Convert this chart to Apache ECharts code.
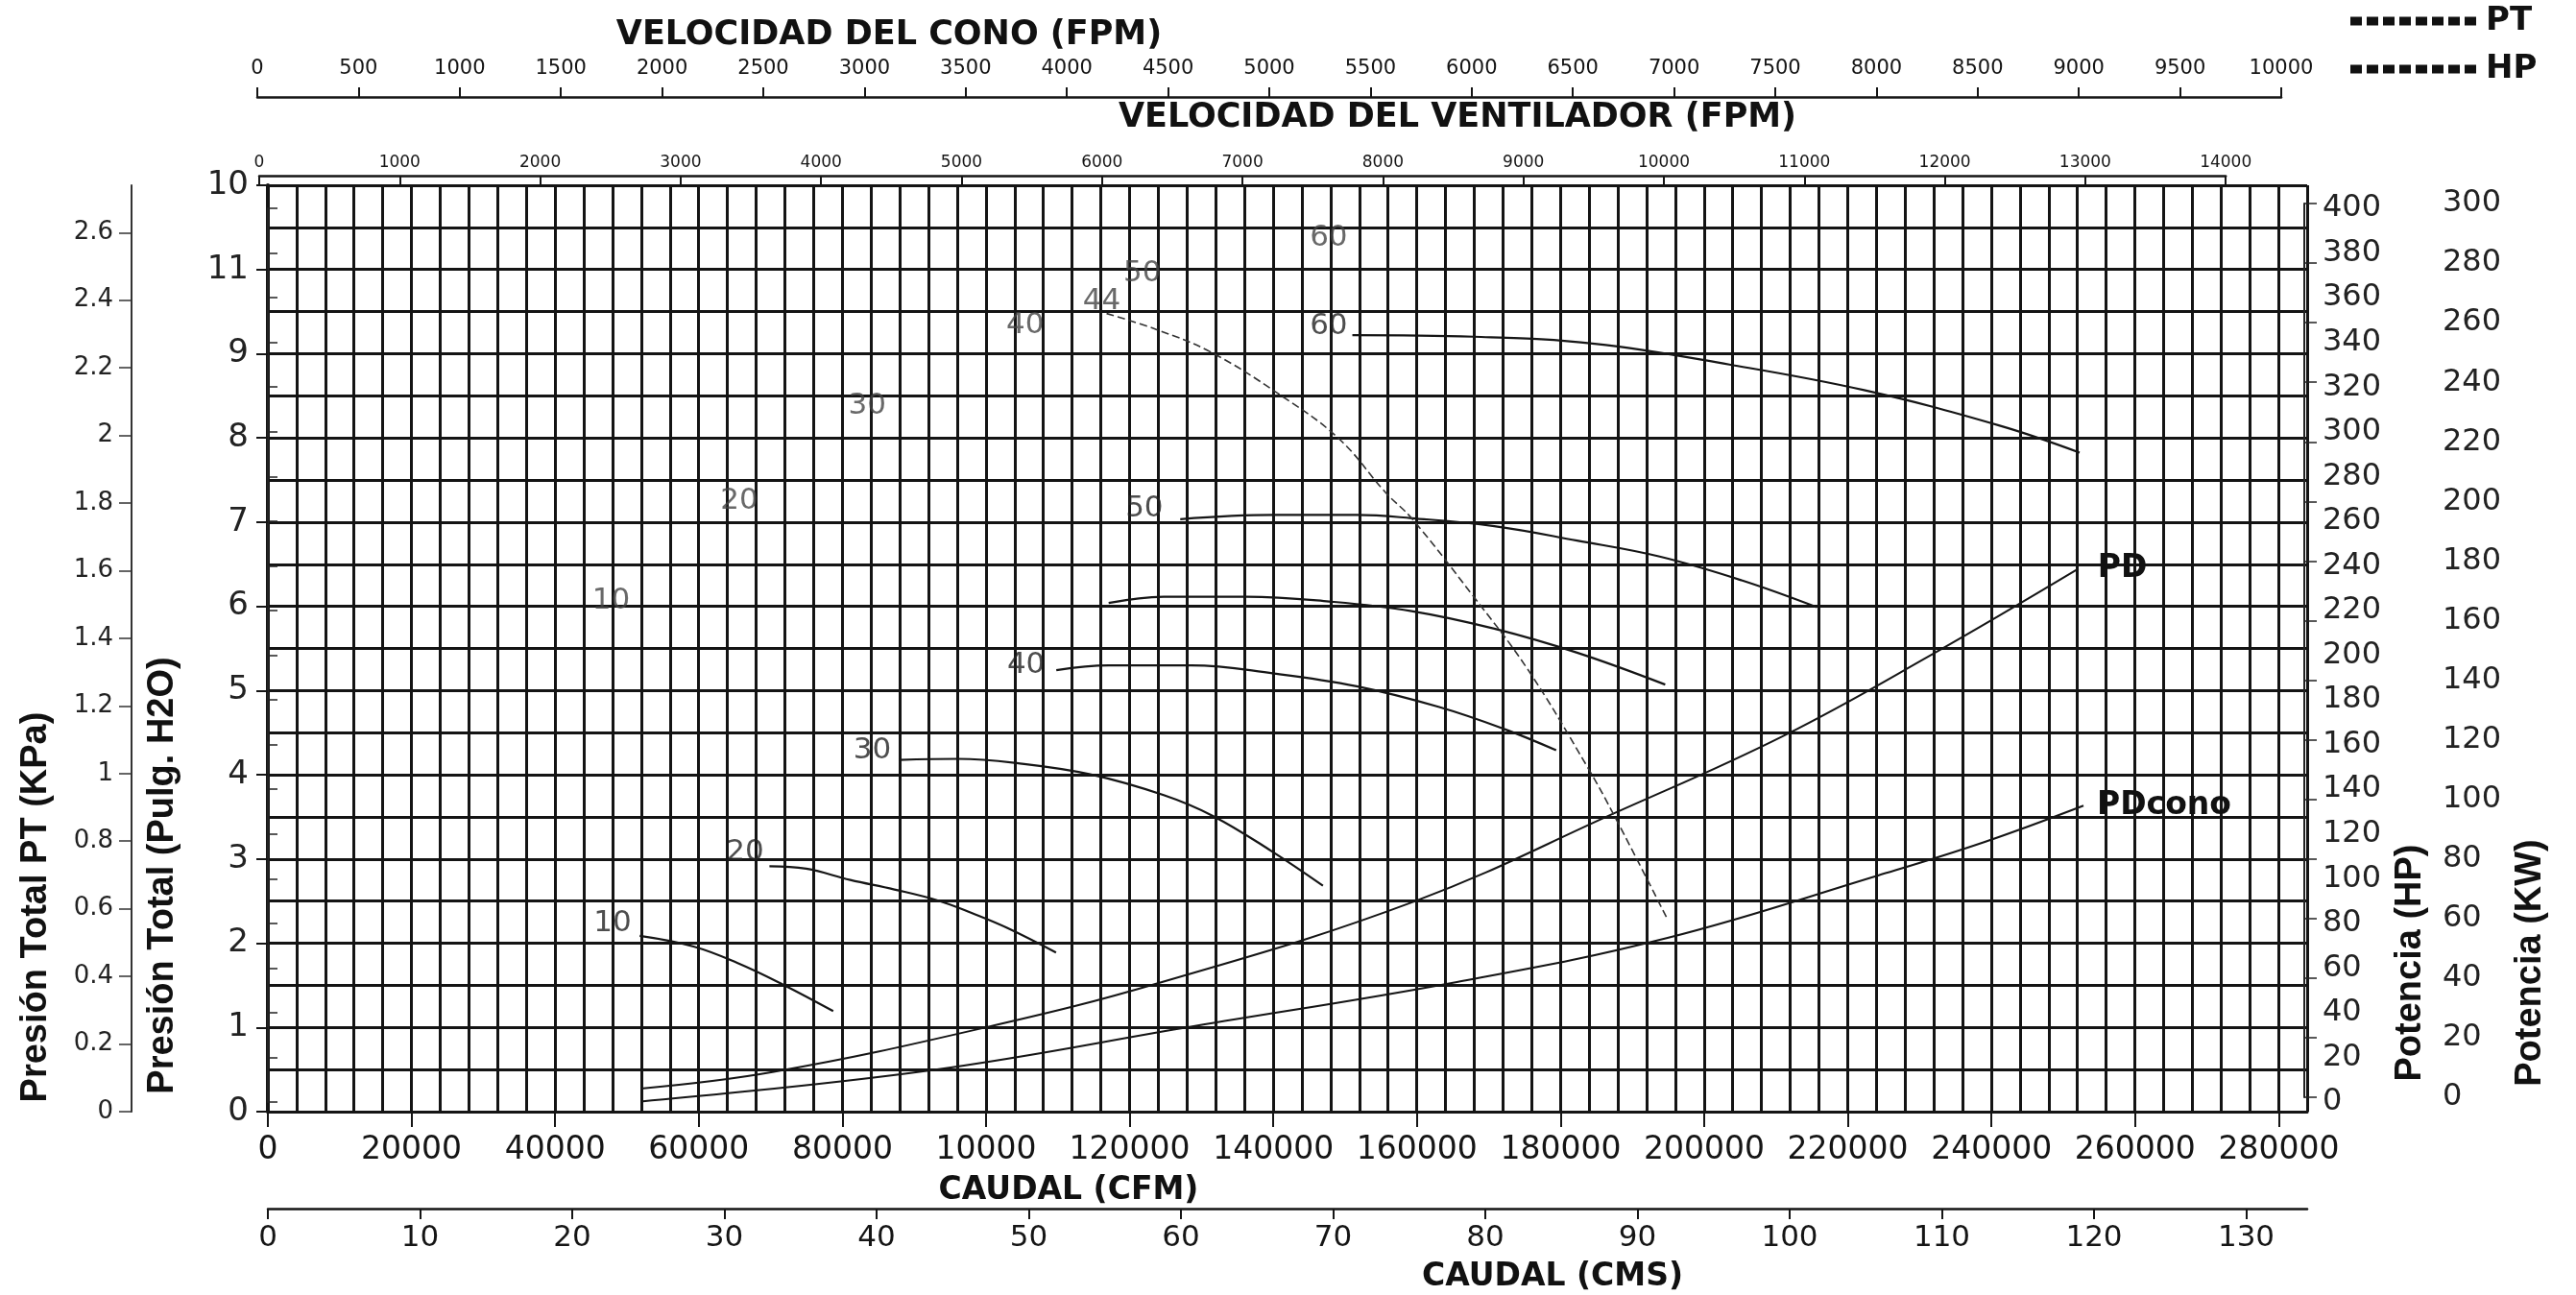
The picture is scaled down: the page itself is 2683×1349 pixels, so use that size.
<!DOCTYPE html>
<html><head><meta charset="utf-8">
<script src="https://cdn.jsdelivr.net/npm/echarts@6/dist/echarts.min.js"></script>
<style>html,body{margin:0;padding:0;background:#fff}#c{width:2683px;height:1349px}</style>
</head><body><div id="c"></div>
<script>
// ---------- tick labels ----------
const cfmTickLabels = ['0','20000','40000','60000','80000','10000','120000','140000','160000','180000','200000','220000','240000','260000','280000'];
const inchTickLabels = ['0','1','2','3','4','5','6','7','8','9','11','10'];
const kpaTickValues = [0,0.2,0.4,0.6,0.8,1,1.2,1.4,1.6,1.8,2,2.2,2.4,2.6];
const kpaTickLabels = ['0','0.2','0.4','0.6','0.8','1','1.2','1.4','1.6','1.8','2','2.2','2.4','2.6'];
const cmsTickLabels = ['0','10','20','30','40','50','60','70','80','90','100','110','120','130'];
const fanFpmTickLabels = ['0','1000','2000','3000','4000','5000','6000','7000','8000','9000','10000','11000','12000','13000','14000'];
const coneFpmTickLabels = ['0','500','1000','1500','2000','2500','3000','3500','4000','4500','5000','5500','6000','6500','7000','7500','8000','8500','9000','9500','10000'];
const hpTickLabels = ['0','20','40','60','80','100','120','140','160','180','200','220','240','260','280','300','320','340','360','380','400'];
const kwTickLabels = ['0','20','40','60','80','100','120','140','160','180','200','220','240','260','280','300'];

// ---------- PT curves: [CFM, in. H2O] ----------
const pt10 = [[51780,2.087],[59280,1.961],[65430,1.764],[71560,1.517],[78730,1.194]];
const pt20 = [[69850,2.915],[74970,2.885],[81110,2.751],[87250,2.638],[93400,2.505],[98170,2.353],[102940,2.182],[109760,1.889]];
const pt30 = [[87930,4.177],[96120,4.189],[104300,4.139],[114530,4.006],[124760,3.759],[131600,3.512],[139770,3.094],[146930,2.683]];
const pt40 = [[109800,5.242],[117090,5.299],[128600,5.299],[140110,5.203],[151620,5.051],[163130,4.804],[172340,4.538],[179410,4.291]];
const pt44 = [[117090,6.040],[124760,6.115],[136270,6.115],[147780,6.058],[159290,5.944],[170800,5.735],[182320,5.450],[194600,5.071]];
const pt50 = [[127060,7.035],[140110,7.085],[151620,7.085],[159290,7.047],[170800,6.952],[182320,6.781],[193830,6.591],[205350,6.306],[215710,5.990]];
const pt60 = [[151030,9.221],[167900,9.202],[184780,9.118],[203540,8.871],[222300,8.567],[241060,8.149],[252310,7.826]];
const pdFan = [[51930,0.274],[70270,0.470],[99600,0.993],[124520,1.539],[159720,2.498],[187570,3.546],[211050,4.462],[231600,5.422],[252150,6.448]];
const pdCone = [[51930,0.120],[92260,0.491],[128930,1.015],[165590,1.539],[194920,2.063],[224250,2.804],[238910,3.197],[252850,3.633]];

// ---------- HP curve (44): [CFM, HP] ----------
const hp44 = [[116800,352.9],[123800,345.7],[131290,335.7],[140680,317.1],[149120,297.0],[155680,272.7],[159300,261.2],[167750,226.9],[175400,193.9],[183850,149.5],[187600,127.6],[194950,81.6]];

// ---------- curve labels ----------
const ptLabelText = ['10','20','30','40','50','60'];
const ptLabelPos = [[48000,2.24],[66440,3.075],[84180,4.29],[105580,5.30],[122060,7.16],[147730,9.33]];
const hpLabelText = ['10','20','30','40','44','50','60'];
const hpLabelPos = [[47800,224.2],[65640,269.0],[83480,311.7],[105450,347.7],[116130,358.3],[121770,370.8],[147730,386.5]];

// ---------- chart ----------
const NUM = "'DejaVu Sans', Verdana, sans-serif";
const INK = '#151515';
const GRIDLINE = {color: '#141414', width: 3};
const hidden = {show: false};
const hiddenAxis = (g, extra) => Object.assign({gridIndex: g, type: 'value', show: false, min: 0, max: 1}, extra || {});

const ptSeries = [pt10, pt20, pt30, pt40, pt44, pt50, pt60].map(d => ({
  type: 'line', name: 'PT', xAxisIndex: 0, yAxisIndex: 0, data: d, smooth: 0.4,
  symbol: 'none', lineStyle: {color: INK, width: 2.2}, itemStyle: {color: INK}, z: 5
}));

const dashIcon = 'path://M0,0h12v6h-12z M17,0h12v6h-12z M34,0h12v6h-12z M51,0h12v6h-12z M68,0h12v6h-12z M85,0h12v6h-12z M102,0h12v6h-12z M119,0h12v6h-12z';

const option = {
  backgroundColor: '#ffffff',
  animation: false,
  legend: {
    data: ['PT', 'HP'], orient: 'vertical', left: 2448, top: 5, padding: 0,
    itemWidth: 131, itemHeight: 9, itemGap: 16, icon: dashIcon, selectedMode: false, symbolKeepAspect: false,
    itemStyle: {color: '#111', borderWidth: 0},
    textStyle: {fontFamily: NUM, fontWeight: 'bold', fontSize: 34, color: '#111', lineHeight: 34, padding: [0, 0, 0, 5]}
  },
  grid: [
    {left: 279, top: 193, width: 2124, height: 965},      // 0 main
    {left: 279, top: 1157, width: 2094.4, height: 1},     // 1 CFM labels
    {left: 279, top: 1258, width: 2124, height: 1},       // 2 CMS line
    {left: 279, top: 1258, width: 2060.5, height: 1},     // 3 CMS ticks
    {left: 270, top: 182, width: 2048.2, height: 1},      // 4 fan FPM
    {left: 268, top: 100, width: 2108, height: 1},        // 5 cone FPM
    {left: 137, top: 193, width: 1, height: 965},         // 6 KPa
    {left: 279, top: 217, width: 2124, height: 931},      // 7 HP
    {left: 2400, top: 212, width: 127, height: 931}       // 8 KW
  ],
  xAxis: [
    {gridIndex: 0, type: 'value', position: 'bottom', min: 0, max: 284000, interval: 4000,
      axisLine: {show: true, lineStyle: {color: INK, width: 3}}, axisTick: hidden, axisLabel: hidden,
      splitLine: {show: true, lineStyle: GRIDLINE}},
    {gridIndex: 1, type: 'value', position: 'bottom', min: 0, max: 280000, interval: 20000,
      axisLine: hidden, splitLine: hidden,
      axisTick: {show: true, length: 16, lineStyle: {color: INK, width: 2}},
      axisLabel: {show: true, margin: 24, fontSize: 33, fontFamily: NUM, color: INK,
        formatter: v => cfmTickLabels[Math.round(v / 20000)] || ''}},
    {gridIndex: 2, type: 'value', position: 'bottom', min: 0, max: 134,
      axisLine: {show: true, lineStyle: {color: INK, width: 2.5}}, axisTick: hidden, axisLabel: hidden, splitLine: hidden},
    {gridIndex: 3, type: 'value', position: 'bottom', min: 0, max: 130, interval: 10,
      axisLine: hidden, splitLine: hidden,
      axisTick: {show: true, length: 11, lineStyle: {color: INK, width: 2}},
      axisLabel: {show: true, margin: 15, fontSize: 31, fontFamily: NUM, color: INK,
        formatter: v => cmsTickLabels[Math.round(v / 10)] || ''}},
    {gridIndex: 4, type: 'value', position: 'top', min: 0, max: 14000, interval: 1000,
      axisLine: {show: true, lineStyle: {color: INK, width: 2.5}}, splitLine: hidden,
      axisTick: {show: true, inside: true, length: 11, lineStyle: {color: INK, width: 2}},
      axisLabel: {show: true, margin: 4, fontSize: 17, fontFamily: NUM, color: INK,
        formatter: v => fanFpmTickLabels[Math.round(v / 1000)] || ''}},
    {gridIndex: 5, type: 'value', position: 'top', min: 0, max: 10000, interval: 500,
      axisLine: {show: true, lineStyle: {color: INK, width: 2.5}}, splitLine: hidden,
      axisTick: {show: true, length: 10, lineStyle: {color: INK, width: 2}},
      axisLabel: {show: true, margin: 18, fontSize: 21, fontFamily: NUM, color: INK,
        formatter: v => coneFpmTickLabels[Math.round(v / 500)] || ''}},
    hiddenAxis(6),
    hiddenAxis(7, {min: 0, max: 284000}),
    hiddenAxis(8)
  ],
  yAxis: [
    {gridIndex: 0, type: 'value', position: 'left', min: 0, max: 11, interval: 1,
      axisLine: {show: true, lineStyle: {color: INK, width: 4}},
      axisTick: {show: true, length: 12, lineStyle: {color: INK, width: 2}},
      minorTick: {show: false, splitNumber: 2},
      splitLine: {show: true, lineStyle: GRIDLINE},
      minorSplitLine: {show: true, lineStyle: GRIDLINE},
      axisLabel: {show: true, margin: 20, fontSize: 34, fontFamily: NUM, color: '#222',
        formatter: v => inchTickLabels[Math.round(v)] || ''}},
    hiddenAxis(1), hiddenAxis(2), hiddenAxis(3), hiddenAxis(4), hiddenAxis(5),
    {gridIndex: 6, type: 'value', position: 'left', min: 0, max: 2.73998, interval: 0.2,
      axisLine: {show: true, lineStyle: {color: '#333', width: 2}}, splitLine: hidden,
      axisTick: {show: true, length: 13, customValues: kpaTickValues, lineStyle: {color: '#333', width: 1.5}},
      axisLabel: {show: true, margin: 19, fontSize: 26, fontFamily: NUM, color: '#222', customValues: kpaTickValues,
        formatter: v => { const i = kpaTickValues.findIndex(t => Math.abs(t - v) < 1e-6); return i >= 0 ? kpaTickLabels[i] : ''; }}},
    {gridIndex: 7, type: 'value', position: 'right', offset: 4, min: 0, max: 400, interval: 20,
      axisLine: {show: true, lineStyle: {color: '#222', width: 2}}, splitLine: hidden,
      axisTick: {show: true, length: 10, lineStyle: {color: '#222', width: 1.5}},
      axisLabel: {show: true, margin: 12, fontSize: 32, fontFamily: NUM, color: '#222',
        formatter: v => hpTickLabels[Math.round(v / 20)] || ''}},
    {gridIndex: 8, type: 'value', position: 'right', min: 0, max: 300, interval: 20,
      axisLine: {show: true, lineStyle: {color: '#222', width: 2}}, splitLine: hidden,
      axisTick: {show: true, length: 13, lineStyle: {color: '#222', width: 1.5}},
      axisLabel: {show: true, margin: 17, fontSize: 32, fontFamily: NUM, color: '#222',
        formatter: v => kwTickLabels[Math.round(v / 20)] || ''}}
  ],
  series: ptSeries.concat([
    {type: 'line', name: 'PD', xAxisIndex: 0, yAxisIndex: 0, data: pdFan, smooth: 0.4, symbol: 'none',
      lineStyle: {color: INK, width: 2}, z: 5,
      endLabel: {show: true, formatter: 'PD', distance: 20, fontFamily: NUM, fontWeight: 'bold', fontSize: 33, color: '#111'}},
    {type: 'line', name: 'PDcono', xAxisIndex: 0, yAxisIndex: 0, data: pdCone, smooth: 0.4, symbol: 'none',
      lineStyle: {color: INK, width: 2}, z: 5,
      endLabel: {show: true, formatter: 'PDcono', distance: 14, fontFamily: NUM, fontWeight: 'bold', fontSize: 33, color: '#111'}},
    {type: 'line', name: 'HP', xAxisIndex: 7, yAxisIndex: 7, data: hp44, smooth: 0.4, symbol: 'none',
      lineStyle: {color: '#333', width: 1.6, type: [8, 4]}, itemStyle: {color: '#333'}, z: 5},
    {type: 'scatter', name: 'ptLabels', xAxisIndex: 0, yAxisIndex: 0, symbolSize: 1, silent: true,
      itemStyle: {color: 'rgba(0,0,0,0)'}, z: 6,
      data: ptLabelPos.map((p, i) => ({name: ptLabelText[i], value: p})),
      label: {show: true, position: 'inside', formatter: '{b}', fontFamily: NUM, fontSize: 31, color: '#222'}},
    {type: 'scatter', name: 'hpLabels', xAxisIndex: 7, yAxisIndex: 7, symbolSize: 1, silent: true,
      itemStyle: {color: 'rgba(0,0,0,0)'}, z: 6,
      data: hpLabelPos.map((p, i) => ({name: hpLabelText[i], value: p})),
      label: {show: true, position: 'inside', formatter: '{b}', fontFamily: NUM, fontSize: 31, color: '#444'}}
  ]),
  graphic: {elements: [
    {type: 'text', x: 926, y: 37, style: {text: 'VELOCIDAD DEL CONO (FPM)', font: 'bold 35px "DejaVu Sans"', fill: '#111', align: 'center', verticalAlign: 'middle', textAlign: 'center', textVerticalAlign: 'middle'}},
    {type: 'text', x: 1518, y: 123, style: {text: 'VELOCIDAD DEL VENTILADOR (FPM)', font: 'bold 35px "DejaVu Sans"', fill: '#111', align: 'center', verticalAlign: 'middle', textAlign: 'center', textVerticalAlign: 'middle'}},
    {type: 'text', x: 1113, y: 1240, style: {text: 'CAUDAL (CFM)', font: 'bold 33px "DejaVu Sans"', fill: '#111', align: 'center', verticalAlign: 'middle', textAlign: 'center', textVerticalAlign: 'middle'}},
    {type: 'text', x: 1617, y: 1330, style: {text: 'CAUDAL (CMS)', font: 'bold 33px "DejaVu Sans"', fill: '#111', align: 'center', verticalAlign: 'middle', textAlign: 'center', textVerticalAlign: 'middle'}},
    {type: 'text', x: 38, y: 945, rotation: Math.PI / 2, style: {text: 'Presión Total PT (KPa)', font: 'bold 38px "Liberation Sans"', fill: '#111', align: 'center', verticalAlign: 'middle', textAlign: 'center', textVerticalAlign: 'middle'}},
    {type: 'text', x: 170, y: 912, rotation: Math.PI / 2, style: {text: 'Presión Total (Pulg. H2O)', font: 'bold 38px "Liberation Sans"', fill: '#111', align: 'center', verticalAlign: 'middle', textAlign: 'center', textVerticalAlign: 'middle'}},
    {type: 'text', x: 2511, y: 1003, rotation: Math.PI / 2, style: {text: 'Potencia (HP)', font: 'bold 38px "Liberation Sans"', fill: '#111', align: 'center', verticalAlign: 'middle', textAlign: 'center', textVerticalAlign: 'middle'}},
    {type: 'text', x: 2636, y: 1003, rotation: Math.PI / 2, style: {text: 'Potencia (KW)', font: 'bold 38px "Liberation Sans"', fill: '#111', align: 'center', verticalAlign: 'middle', textAlign: 'center', textVerticalAlign: 'middle'}}
  ]}
};

const chart = echarts.init(document.getElementById('c'), null, {renderer: 'canvas'});
chart.setOption(option);
</script></body></html>
